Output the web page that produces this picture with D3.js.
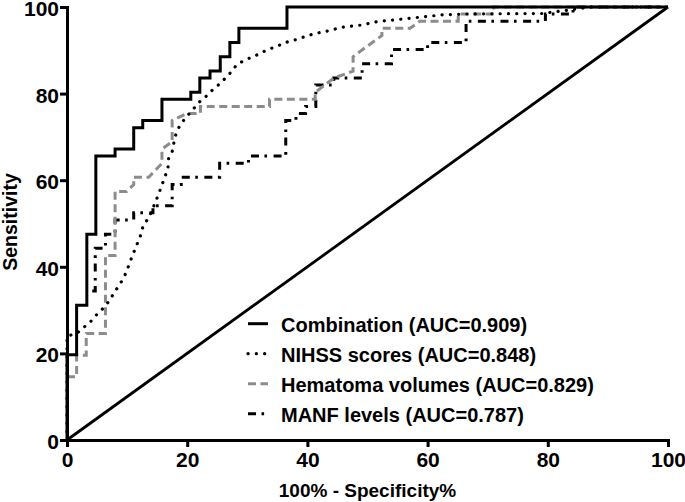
<!DOCTYPE html>
<html>
<head>
<meta charset="utf-8">
<script src="https://cdn.jsdelivr.net/npm/d3@7/dist/d3.min.js"></script>
<style>
  html, body { margin: 0; padding: 0; background: #fff; }
  svg { display: block; font-family: "Liberation Sans", Arial, Helvetica, sans-serif; font-weight: bold; }
</style>
</head>
<body>
<svg id="chart" width="685" height="502"></svg>
<script>
// ---- Data ----
const xTicks = [0, 20, 40, 60, 80, 100];
const yTicks = [0, 20, 40, 60, 80, 100];
const xLabel = "100% - Specificity%";
const yLabel = "Sensitivity";
const seriesNames = [
  "Combination (AUC=0.909)",
  "NIHSS scores (AUC=0.848)",
  "Hematoma volumes (AUC=0.829)",
  "MANF levels (AUC=0.787)"
];

const combinationFpr = [0, 0, 1.6, 1.6, 3.3, 3.3, 4.8, 4.8, 8.0, 8.0, 11.1, 11.1, 12.6, 12.6, 15.8, 15.8, 20.6, 20.6, 22.1, 22.1, 23.8, 23.8, 25.5, 25.5, 27.1, 27.1, 28.6, 28.6, 36.6, 36.6, 100];
const combinationTpr = [0, 19.7, 19.7, 31.1, 31.1, 47.5, 47.5, 65.6, 65.6, 67.2, 67.2, 72.1, 72.1, 73.8, 73.8, 78.7, 78.7, 80.3, 80.3, 83.6, 83.6, 85.2, 85.2, 88.5, 88.5, 91.8, 91.8, 95.1, 95.1, 100, 100];

const nihssFpr = [0, 0, 1.6, 2.8, 3.9, 4.9, 6.0, 6.9, 7.8, 8.6, 9.4, 10.0, 10.5, 11.1, 11.6, 12.2, 12.6, 13.4, 14.0, 15.3, 15.8, 16.3, 16.8, 16.9, 17.5, 17.9, 18.2, 18.8, 19.9, 20.9, 21.8, 23.1, 24.1, 25.2, 26.3, 27.4, 28.2, 29.6, 31.0, 32.7, 34.1, 35.4, 36.8, 38.2, 39.9, 41.3, 42.9, 44.3, 45.7, 48.8, 51.5, 54.3, 57.1, 59.8, 62.6, 67.0, 79.0, 83.0, 87.0, 100];
const nihssTpr = [0, 24.0, 24.6, 26.0, 27.3, 28.9, 30.4, 31.9, 33.9, 35.6, 37.3, 39.3, 41.2, 43.3, 45.0, 47.1, 49.1, 51.0, 52.5, 57.0, 58.9, 60.8, 62.7, 65.0, 66.6, 69.5, 71.0, 72.7, 74.7, 76.2, 77.8, 79.3, 80.7, 82.0, 83.5, 85.1, 86.6, 87.8, 88.5, 89.7, 90.5, 91.2, 92.0, 92.5, 93.3, 93.9, 94.3, 94.8, 95.3, 95.8, 96.6, 97.0, 97.4, 97.8, 98.2, 98.4, 98.5, 99.2, 100, 100];

const hematomaFpr = [0, 1.6, 1.6, 3.2, 3.2, 6.4, 6.4, 8.0, 8.0, 9.9, 11.1, 11.1, 13.6, 15.8, 15.8, 17.5, 17.5, 18.0, 19.9, 22.2, 22.2, 33.7, 33.7, 41.3, 41.3, 42.9, 44.4, 47.6, 47.6, 49.2, 50.8, 52.4, 52.4, 57.1, 58.7, 65.1, 65.1, 71.0, 71.0, 100];
const hematomaTpr = [14.6, 14.6, 19.6, 19.6, 24.6, 24.6, 42.6, 42.6, 57.4, 57.4, 59.0, 60.7, 60.7, 63.9, 67.2, 68.9, 73.8, 74.1, 75.4, 75.4, 77.0, 77.0, 78.7, 78.7, 80.3, 82.0, 83.6, 85.2, 88.5, 90.2, 91.8, 93.4, 95.1, 95.1, 96.7, 96.7, 98.4, 98.4, 100, 100];

const manfFpr = [4.2, 4.7, 4.7, 6.4, 6.4, 8.0, 8.0, 11.1, 11.1, 14.3, 14.3, 17.5, 17.5, 19.0, 19.0, 25.4, 25.4, 30.2, 30.2, 36.4, 36.4, 38.1, 38.1, 39.7, 39.7, 41.4, 41.4, 44.4, 44.4, 49.1, 49.1, 54.0, 54.0, 60.0, 60.0, 66.4, 66.4, 79.6, 79.6, 84.2, 84.2, 100];
const manfTpr = [34.4, 34.4, 44.3, 44.3, 47.5, 47.5, 50.8, 50.8, 52.5, 52.5, 54.1, 54.1, 59.0, 59.0, 60.7, 60.7, 63.9, 63.9, 65.6, 65.6, 73.8, 73.8, 75.4, 75.4, 77.0, 77.0, 82.0, 82.0, 83.6, 83.6, 86.9, 86.9, 90.2, 90.2, 91.8, 91.8, 96.7, 96.7, 98.4, 98.4, 100, 100];

const refFpr = [0, 100];
const refTpr = [0, 100];

// ---- Layout ----
const svg = d3.select("#chart");
const x = d3.scaleLinear().domain([0, 100]).range([67, 668]);
const y = d3.scaleLinear().domain([0, 100]).range([440, 7]);

const zip = (a, b) => a.map((v, i) => [v, b[i]]);
const line = d3.line().x(d => x(d[0])).y(d => y(d[1]));

const styles = [
  { stroke: "#000", dash: null, cap: "butt", width: 3 },
  { stroke: "#000", dash: "0.1,8.2", cap: "round", width: 3.2 },
  { stroke: "#8c8c8c", dash: "8,4.5", cap: "butt", width: 3 },
  { stroke: "#000", dash: "8,5.5,2.6,6.5", cap: "butt", width: 3 }
];

const series = [
  zip(combinationFpr, combinationTpr),
  zip(nihssFpr, nihssTpr),
  zip(hematomaFpr, hematomaTpr),
  zip(manfFpr, manfTpr)
];

// reference diagonal
svg.append("path")
  .attr("d", line(zip(refFpr, refTpr)))
  .attr("fill", "none").attr("stroke", "#000").attr("stroke-width", 2.8);

// draw in reverse so combination is on top
[3, 2, 1, 0].forEach(i => {
  const s = styles[i];
  const p = svg.append("path")
    .attr("d", line(series[i]))
    .attr("fill", "none")
    .attr("stroke", s.stroke)
    .attr("stroke-width", s.width)
    .attr("stroke-linecap", s.cap)
    .attr("stroke-linejoin", "miter");
  if (s.dash) p.attr("stroke-dasharray", s.dash);
});

// ---- Axes ----
const xAxis = svg.append("g")
  .attr("transform", "translate(0,440)")
  .call(d3.axisBottom(x).tickValues(xTicks).tickSize(7).tickSizeOuter(0).tickPadding(5));
const yAxis = svg.append("g")
  .attr("transform", "translate(67,0)")
  .call(d3.axisLeft(y).tickValues(yTicks).tickSize(7).tickSizeOuter(0).tickPadding(1));

[xAxis, yAxis].forEach(g => {
  g.select(".domain").attr("stroke", "#000").attr("stroke-width", 3).attr("stroke-linecap", "square");
  g.selectAll(".tick line").attr("stroke", "#000").attr("stroke-width", 3);
  g.selectAll(".tick text")
    .attr("fill", "#000")
    .style("font-family", "'Liberation Sans', Arial, sans-serif")
    .style("font-weight", "bold")
    .style("font-size", "21px");
});
yAxis.selectAll(".tick text").attr("dy", "0.4em");

// axis titles
svg.append("text")
  .attr("x", 367.5).attr("y", 497)
  .attr("text-anchor", "middle")
  .style("font-size", "19px")
  .text(xLabel);

svg.append("text")
  .attr("transform", "translate(17,222) rotate(-90)")
  .attr("text-anchor", "middle")
  .style("font-size", "19.5px")
  .text(yLabel);

// ---- Legend ----
const legend = svg.append("g");
seriesNames.forEach((name, i) => {
  const base = 331.7 + i * 30;
  const s = styles[i];
  const l = legend.append("line")
    .attr("x1", 248).attr("x2", 268)
    .attr("y1", base - 8).attr("y2", base - 8)
    .attr("stroke", s.stroke)
    .attr("stroke-width", s.width)
    .attr("stroke-linecap", s.cap);
  if (s.dash) l.attr("stroke-dasharray", s.dash);
  legend.append("text")
    .attr("x", 281).attr("y", base)
    .style("font-size", "20px")
    .text(name);
});
</script>
</body>
</html>
